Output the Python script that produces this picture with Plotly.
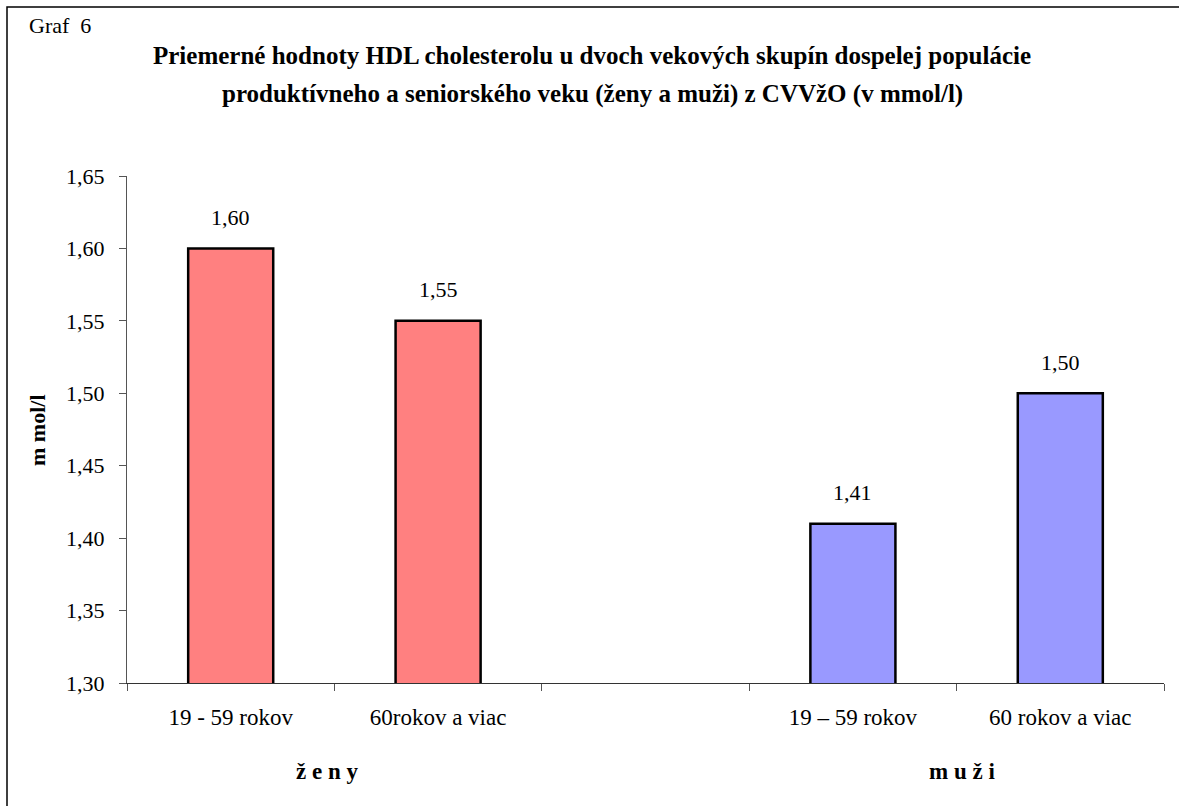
import plotly.graph_objects as go

# Mean HDL cholesterol (mmol/l) by sex and age group
categories = ["19 - 59 rokov", "60rokov a viac", " ", "19 – 59 rokov", "60 rokov a viac"]
zeny_values = [1.60, 1.55]
muzi_values = [1.41, 1.50]
group_labels = ["ž e n y", "m u ž i"]
y_ticks = [1.30, 1.35, 1.40, 1.45, 1.50, 1.55, 1.60, 1.65]

values = zeny_values + [None] + muzi_values
colors = ["#FF8080", "#FF8080", "#FFFFFF", "#9999FF", "#9999FF"]

W, H = 1179, 806
L, R, T, B = 127, 1164, 176, 683
SERIF = "Liberation Serif, Times New Roman, serif"


def px_x(px):
    return (px - L) / (R - L)


def px_y(py):
    return (B - py) / (B - T)


fig = go.Figure(
    go.Bar(
        x=categories,
        y=values,
        marker=dict(color=colors, line=dict(color="#000000", width=2.5)),
        width=0.41,
        hoverinfo="x+y",
    )
)

annotations = []
# value labels above bars
for cat, val in zip(categories, values):
    if val is None:
        continue
    annotations.append(dict(
        x=cat, y=val, xref="x", yref="y",
        text=f"{val:.2f}".replace(".", ","),
        showarrow=False, yanchor="middle", yshift=31,
        font=dict(family=SERIF, size=22, color="#000000"),
    ))

# chart caption and title
annotations.append(dict(
    x=px_x(27), y=px_y(25), xref="paper", yref="paper",
    text="Graf  6", showarrow=False, xanchor="left", yanchor="middle",
    font=dict(family=SERIF, size=22, color="#000000"),
))
annotations.append(dict(
    x=px_x(592), y=px_y(56), xref="paper", yref="paper",
    text="<b>Priemerné hodnoty HDL cholesterolu u dvoch vekových skupín dospelej populácie</b>",
    showarrow=False, xanchor="center", yanchor="middle",
    font=dict(family=SERIF, size=25, color="#000000"),
))
annotations.append(dict(
    x=px_x(592), y=px_y(94), xref="paper", yref="paper",
    text="<b>produktívneho a seniorského veku (ženy a muži) z CVVžO (v mmol/l)</b>",
    showarrow=False, xanchor="center", yanchor="middle",
    font=dict(family=SERIF, size=25, color="#000000"),
))
# y-axis title
annotations.append(dict(
    x=px_x(37), y=px_y(430), xref="paper", yref="paper",
    text="<b>m mol/l</b>", textangle=-90, showarrow=False,
    xanchor="center", yanchor="middle",
    font=dict(family=SERIF, size=22, color="#000000"),
))
# group labels under the categories
for label, cx in zip(group_labels, [327, 962]):
    annotations.append(dict(
        x=px_x(cx), y=px_y(771), xref="paper", yref="paper",
        text=f"<b>{label}</b>", showarrow=False,
        xanchor="center", yanchor="middle",
        font=dict(family=SERIF, size=23, color="#000000"),
    ))

fig.update_layout(
    width=W, height=H,
    margin=dict(l=L, r=W - R, t=T, b=H - B, pad=0),
    paper_bgcolor="#FFFFFF", plot_bgcolor="#FFFFFF",
    separators=", ",
    showlegend=False,
    bargap=0.59,
    annotations=annotations,
    shapes=[dict(
        type="rect", xref="paper", yref="paper",
        x0=px_x(7), y0=px_y(7), x1=px_x(W + 20), y1=px_y(H + 20),
        line=dict(color="#000000", width=1.5), fillcolor="rgba(0,0,0,0)",
        layer="below",
    )],
    xaxis=dict(
        type="category",
        categoryorder="array", categoryarray=categories,
        range=[-0.5, 4.5],
        tickson="boundaries",
        ticks="outside", ticklen=7, tickcolor="#555555", tickwidth=1,
        showline=True, linecolor="#333333", linewidth=1,
        showgrid=False, zeroline=False,
        ticklabelstandoff=13,
        tickfont=dict(family=SERIF, size=23, color="#000000"),
        fixedrange=True,
    ),
    yaxis=dict(
        range=[1.30, 1.65],
        tickvals=y_ticks,
        tickformat=".2f",
        ticks="outside", ticklen=7, tickcolor="#555555", tickwidth=1,
        showline=True, linecolor="#555555", linewidth=1,
        showgrid=False, zeroline=False,
        ticklabelstandoff=10,
        tickfont=dict(family=SERIF, size=22, color="#000000"),
        fixedrange=True,
    ),
)

fig.write_html("out.html")
